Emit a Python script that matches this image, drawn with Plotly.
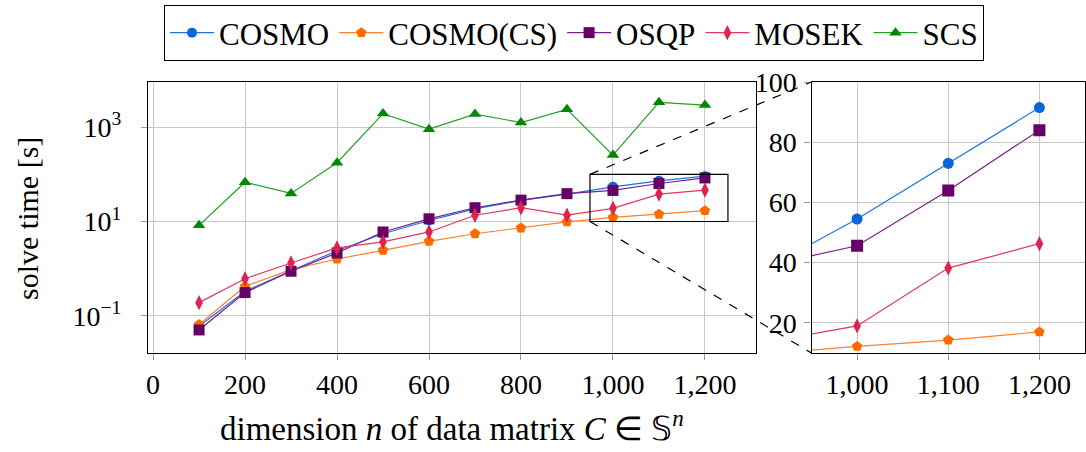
import math
import plotly.graph_objects as go

n_dims = [100, 200, 300, 400, 500, 600, 700, 800, 900, 1000, 1100, 1200]
cosmo = [0.06, 0.33, 0.9, 2.4, 5.5, 10.5, 18.5, 28, 38, 54.5, 73, 91.5]
cosmo_cs = [0.065, 0.42, 0.95, 1.6, 2.45, 3.8, 5.5, 7.3, 9.8, 12.2, 14.3, 17.0]
osqp = [0.05, 0.31, 0.88, 2.15, 6.0, 11.4, 19.6, 28.4, 39, 45.6, 64, 84]
mosek = [0.19, 0.61, 1.32, 2.75, 3.7, 6.0, 13.6, 19.6, 13.6, 19.0, 38.2, 46.3]
scs = [8.3, 68, 39.5, 177, 1950, 910, 1900, 1260, 2400, 257, 3380, 2950]

series = [
    ("COSMO", cosmo, "#1a72e8", "#0a64dc", "circle", 10, 11),
    ("COSMO(CS)", cosmo_cs, "#ff7f2a", "#ff6a00", "pentagon", 11, 11),
    ("OSQP", osqp, "#7a1f86", "#660066", "square", 11, 12),
    ("MOSEK", mosek, "#e2365e", "#dc2450", "diamond-tall", 11, 11),
    ("SCS", scs, "#22a022", "#008800", "triangle-up", 11, 11),
]

x_ticks = [0, 200, 400, 600, 800, 1000, 1200]
x_tick_text = ["0", "200", "400", "600", "800", "1,000", "1,200"]
y_ticks = [0.1, 10, 1000]
y_tick_text = ["10<sup>\u22121</sup>", "10<sup>1</sup>", "10<sup>3</sup>"]
inset_x_ticks = [1000, 1100, 1200]
inset_x_text = ["1,000", "1,100", "1,200"]
inset_y_ticks = [20, 40, 60, 80, 100]

W, H = 1086, 452
main_xr = [-11, 1311]
main_yr = [-1.79, 3.96]
zoom_x = [950, 1250]
zoom_y = [10, 100]

main_xdom = [148 / W, 756 / W]
ydom = [1 - 353 / H, 1 - 82 / H]
inset_xdom = [811.5 / W, 1085 / W]

FONT = "Liberation Serif"
fig = go.Figure()

for name, vals, lc, mc, sym, ms_main, ms_in in series:
    fig.add_trace(go.Scatter(
        x=n_dims, y=vals, name=name, mode="lines+markers",
        line=dict(color=lc, width=1.2),
        marker=dict(symbol=sym, size=ms_main, color=mc),
        xaxis="x", yaxis="y", cliponaxis=True,
    ))
for name, vals, lc, mc, sym, ms_main, ms_in in series:
    if name == "SCS":
        continue
    fig.add_trace(go.Scatter(
        x=n_dims, y=vals, name=name, mode="lines+markers",
        line=dict(color=lc, width=1.2),
        marker=dict(symbol=sym, size=ms_in, color=mc),
        xaxis="x2", yaxis="y2", showlegend=False, cliponaxis=True,
    ))

grid = "#c8c8c8"
common = dict(showline=True, linecolor="black", linewidth=1.2, mirror=True,
              showgrid=True, gridcolor=grid, gridwidth=1, zeroline=False,
              ticks="outside", ticklen=6, tickcolor="#999999",
              tickfont=dict(family=FONT, size=28, color="black"), automargin=False)

fig.update_layout(
    width=W, height=H,
    margin=dict(l=0, r=0, t=0, b=0),
    plot_bgcolor="white", paper_bgcolor="white",
    font=dict(family=FONT, size=28, color="black"),
    xaxis=dict(domain=main_xdom, range=main_xr, tickvals=x_ticks, ticktext=x_tick_text,
               anchor="y", **common),
    yaxis=dict(domain=ydom, type="log", range=main_yr, tickvals=y_ticks, ticktext=y_tick_text,
               anchor="x", ticklabelstandoff=14, **common),
    xaxis2=dict(domain=inset_xdom, range=zoom_x, tickvals=inset_x_ticks, ticktext=inset_x_text,
                anchor="y2", **common),
    yaxis2=dict(domain=ydom, range=zoom_y, tickvals=inset_y_ticks, anchor="x2",
                ticklabelstandoff=2, **common),
    legend=dict(orientation="h", x=574 / W, xanchor="center", y=1 - 5 / H, yanchor="top",
                bordercolor="black", borderwidth=1, bgcolor="white",
                font=dict(family=FONT, size=31), itemwidth=44, tracegroupgap=0),
    showlegend=True,
)

# zoom rectangle
fig.add_shape(type="rect", xref="x", yref="y", x0=zoom_x[0], x1=zoom_x[1],
              y0=zoom_y[0], y1=zoom_y[1], line=dict(color="black", width=1.2))


def main_to_paper(xv, yv):
    px = main_xdom[0] + (xv - main_xr[0]) / (main_xr[1] - main_xr[0]) * (main_xdom[1] - main_xdom[0])
    py = ydom[0] + (math.log10(yv) - main_yr[0]) / (main_yr[1] - main_yr[0]) * (ydom[1] - ydom[0])
    return px, py


for yv, ypaper in [(zoom_y[1], ydom[1]), (zoom_y[0], ydom[0])]:
    px, py = main_to_paper(zoom_x[0], yv)
    fig.add_shape(type="line", xref="paper", yref="paper", x0=px, y0=py,
                  x1=inset_xdom[0], y1=ypaper, line=dict(color="black", width=1.2, dash="dash"))

fig.add_annotation(text="solve time [s]", xref="paper", yref="paper", x=27 / W, y=1 - 219 / H,
                   textangle=-90, showarrow=False, font=dict(family=FONT, size=30),
                   xanchor="center", yanchor="middle")
fig.add_annotation(text="dimension <i>n</i> of data matrix <i>C</i> \u2208 \U0001D54A<sup><i>n</i></sup>",
                   xref="paper", yref="paper", x=452 / W, y=1 - 426 / H, showarrow=False,
                   font=dict(family=FONT, size=33), xanchor="center", yanchor="middle")

fig.write_html("out.html", config={"displayModeBar": False},
               post_script="document.body.style.margin='0px';")
